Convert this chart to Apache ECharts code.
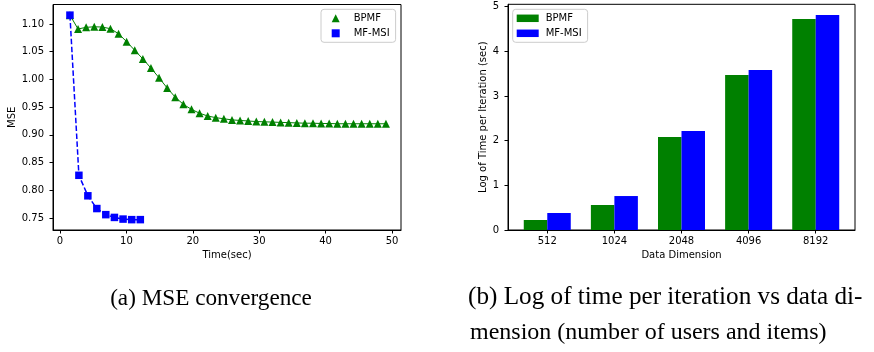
<!DOCTYPE html>
<html>
<head>
<meta charset="utf-8">
<script src="https://cdn.jsdelivr.net/npm/echarts@6/dist/echarts.min.js"></script>
<style>
  html, body { margin: 0; padding: 0; background: #fff; }
  #chart { width: 874px; height: 352px; }
</style>
</head>
<body>
<div id="chart"></div>
<script>
// (a) MSE convergence
const bpmfTime = [1.5, 2.72, 3.94, 5.16, 6.38, 7.6, 8.82, 10.04, 11.26, 12.48, 13.7, 14.92, 16.14, 17.36, 18.58, 19.8,
  21.02, 22.24, 23.46, 24.68, 25.9, 27.12, 28.34, 29.56, 30.78, 32.0, 33.22, 34.44, 35.66, 36.88, 38.1, 39.32,
  40.54, 41.76, 42.98, 44.2, 45.42, 46.64, 47.86, 49.08];
const bpmfMse = [1.116, 1.091, 1.094, 1.095, 1.0945, 1.0915, 1.0825, 1.068, 1.0525, 1.037, 1.0205, 1.003, 0.9845,
  0.968, 0.955, 0.946, 0.939, 0.934, 0.931, 0.929, 0.927, 0.926, 0.925, 0.924, 0.9235, 0.923, 0.9225, 0.922,
  0.9215, 0.921, 0.921, 0.9205, 0.9205, 0.92, 0.92, 0.92, 0.92, 0.92, 0.92, 0.92];
const msiTime = [1.5, 2.85, 4.2, 5.55, 6.9, 8.2, 9.5, 10.8, 12.1];
const msiMse = [1.116, 0.827, 0.79, 0.767, 0.756, 0.751, 0.748, 0.747, 0.747];
const timeTicks = [0, 10, 20, 30, 40, 50];
const mseTicks = [0.75, 0.8, 0.85, 0.9, 0.95, 1.0, 1.05, 1.1];

// (b) log of time per iteration
const dimensions = ["512", "1024", "2048", "4096", "8192"];
const bpmfLogTime = [0.224, 0.559, 2.08, 3.47, 4.72];
const msiLogTime = [0.38, 0.76, 2.215, 3.58, 4.81];
const logTicks = [0, 1, 2, 3, 4, 5];

const FONT = "DejaVu Sans";
const SERIF = "Liberation Serif";
const GREEN = "#008000";
const BLUE = "#0000ff";

function pairs(xs, ys) {
  return xs.map((x, i) => [x, ys[i]]);
}

function valueAxis(gridIndex, min, max, ticks, fmt, name, nameGap, isX) {
  return {
    type: "value",
    gridIndex,
    min,
    max,
    name,
    nameLocation: "middle",
    nameGap,
    nameTextStyle: { fontFamily: FONT, fontSize: 10, color: "#000" },
    axisLine: { show: true, onZero: false, lineStyle: { color: "#000", width: 1 } },
    axisTick: { show: true, length: 3.5, customValues: ticks, lineStyle: { color: "#000", width: 1 } },
    axisLabel: {
      customValues: ticks,
      formatter: fmt,
      fontFamily: FONT,
      fontSize: 10,
      color: "#000",
      margin: isX ? 6 : 9,
    },
    splitLine: { show: false },
  };
}

const chart = echarts.init(document.getElementById("chart"), null, { renderer: "canvas" });

chart.setOption({
  animation: false,
  backgroundColor: "#fff",
  grid: [
    { left: 53, top: 4.5, width: 348, height: 225.5, show: true, borderColor: "#000", borderWidth: 1 },
    { left: 508, top: 4.3, width: 347, height: 225.7, show: true, borderColor: "#000", borderWidth: 1 },
  ],
  xAxis: [
    valueAxis(0, -1.05, 51.35, timeTicks, (v) => String(v), "Time(sec)", 18, true),
    valueAxis(1, -0.585, 4.585, [0, 1, 2, 3, 4], (v) => dimensions[Math.round(v)], "Data Dimension", 18, true),
  ],
  yAxis: [
    valueAxis(0, 0.7283, 1.1352, mseTicks, (v) => v.toFixed(2), "MSE", 36, false),
    valueAxis(1, 0, 5.05, logTicks, (v) => String(v), "Log of Time per Iteration (sec)", 18, false),
  ],
  legend: [
    {
      data: ["BPMF", "MF-MSI"],
      left: 321,
      top: 9.3,
      orient: "vertical",
      itemWidth: 20,
      itemHeight: 10,
      itemGap: 3,
      padding: [3, 6, 3, 4.7],
      borderColor: "#ccc",
      borderWidth: 1,
      borderRadius: 3,
      backgroundColor: "rgba(255,255,255,0.8)",
      lineStyle: { width: 0 },
      textStyle: { fontFamily: FONT, fontSize: 10, color: "#000", padding: [0, 0, 0, 3], lineHeight: 12 },
    },
    {
      data: [
        { name: "BPMF bar", icon: "rect" },
        { name: "MF-MSI bar", icon: "rect" },
      ],
      formatter: (name) => name.replace(" bar", ""),
      left: 512.7,
      top: 9.3,
      orient: "vertical",
      itemWidth: 22,
      itemHeight: 7.5,
      itemGap: 3,
      padding: [3, 6, 3, 4],
      borderColor: "#ccc",
      borderWidth: 1,
      borderRadius: 3,
      backgroundColor: "rgba(255,255,255,0.8)",
      textStyle: { fontFamily: FONT, fontSize: 10, color: "#000", padding: [0, 0, 0, 2], lineHeight: 12 },
    },
  ],
  series: [
    {
      name: "BPMF",
      type: "line",
      xAxisIndex: 0,
      yAxisIndex: 0,
      data: pairs(bpmfTime, bpmfMse),
      symbol: "triangle",
      symbolSize: 8,
      showAllSymbol: true,
      lineStyle: { color: GREEN, width: 1 },
      itemStyle: { color: GREEN },
      z: 2,
    },
    {
      name: "MF-MSI",
      type: "line",
      xAxisIndex: 0,
      yAxisIndex: 0,
      data: pairs(msiTime, msiMse),
      symbol: "rect",
      symbolSize: 7.5,
      showAllSymbol: true,
      lineStyle: { color: BLUE, width: 1.5, type: [5.5, 2.4] },
      itemStyle: { color: BLUE },
      z: 3,
    },
    {
      name: "BPMF bar",
      type: "bar",
      xAxisIndex: 1,
      yAxisIndex: 1,
      data: bpmfLogTime.map((v, i) => [i, v]),
      barWidth: 23.5,
      barGap: "0%",
      itemStyle: { color: GREEN },
    },
    {
      name: "MF-MSI bar",
      type: "bar",
      xAxisIndex: 1,
      yAxisIndex: 1,
      data: msiLogTime.map((v, i) => [i, v]),
      barWidth: 23.5,
      barGap: "0%",
      itemStyle: { color: BLUE },
    },
  ],
  graphic: [
    {
      type: "text",
      x: 211,
      y: 299,
      style: { text: "(a) MSE convergence", fontFamily: SERIF, fontSize: 23.2, fill: "#000", align: "center", verticalAlign: "middle" },
    },
    {
      type: "text",
      x: 468,
      y: 297,
      style: { text: "(b) Log of time per iteration vs data di-", fontFamily: SERIF, fontSize: 25.2, fill: "#000", verticalAlign: "middle" },
    },
    {
      type: "text",
      x: 470,
      y: 333,
      style: { text: "mension (number of users and items)", fontFamily: SERIF, fontSize: 24, fill: "#000", verticalAlign: "middle" },
    },
  ],
});
</script>
</body>
</html>
